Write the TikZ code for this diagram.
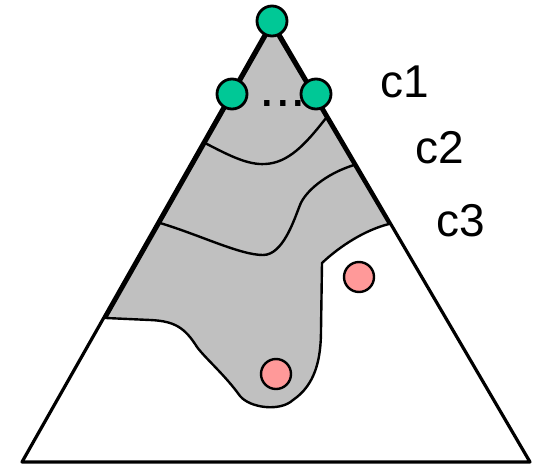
\documentclass[tikz,border=0pt]{standalone}
\usepackage{fontspec}
\setmainfont{Liberation Sans}
\usepackage{tikz}
\definecolor{seedgreen}{RGB}{0,200,150}
\definecolor{sampred}{RGB}{255,153,153}
\definecolor{areagray}{RGB}{192,192,192}

\begin{document}
\begin{tikzpicture}[scale=0.3514,
  seed/.style={circle,draw=black,fill=seedgreen,line width=2.8pt,minimum size=30pt},
  samp/.style={circle,draw=black,fill=sampred,line width=2.4pt,minimum size=30pt},
  lbl/.style={anchor=base west,font=\fontsize{46}{46}\selectfont}]
\tikzstyle{every node}+=[inner sep=0pt]
\useasboundingbox (0,0) rectangle (53.5,-46.4);
% grey area
\draw [black,fill=areagray,line width=2.4pt] (27.2,-2.6) -- (10.6,-31.8) -- (15.0,-32.0)
  .. controls (17.5,-32.1) and (18.5,-32.8) .. (19.7,-34.7)
  .. controls (20.5,-35.8) and (22.5,-37.5) .. (24.0,-39.6)
  .. controls (25.0,-40.8) and (28.0,-41.2) .. (29.3,-40.0)
  .. controls (31.5,-38.5) and (32.1,-36.0) .. (32.1,-33.0)
  -- (32.2,-26.3)
  .. controls (34.0,-24.6) and (36.5,-23.0) .. (38.9,-22.4) -- cycle;
% level lines
\draw [black,line width=2.4pt] (20.5,-14.3) .. controls (23.0,-15.6) and (24.8,-16.5) .. (26.5,-16.4)
  .. controls (28.8,-16.3) and (30.5,-14.5) .. (32.6,-11.8);
\draw [black,line width=2.4pt] (16.0,-22.3) .. controls (20.0,-23.5) and (24.0,-25.5) .. (26.3,-25.5)
  .. controls (28.3,-25.5) and (29.4,-22.0) .. (30.0,-20.5)
  .. controls (30.5,-19.2) and (32.5,-17.4) .. (35.4,-16.5);
% outer triangle
\draw [black,line width=3.2pt,line join=round] (27.2,-2.1) -- (2.2,-46.2) -- (53.0,-46.2) -- cycle;
\node [font=\fontsize{56}{56}\selectfont,anchor=base] (dots) at (28.3,-10.6) {...};
\node [seed] (top) at (27.2,-2.1) {};
\node [seed] (left) at (23.2,-9.4) {};
\node [seed] (right) at (31.6,-9.4) {};
\node [samp] (far) at (35.9,-27.7) {};
\node [samp] (near) at (27.6,-37.4) {};
\node [lbl] (c1) at (38.0,-9.7) {c1};
\node [lbl] (c2) at (41.5,-16.3) {c2};
\node [lbl] (c3) at (43.6,-23.6) {c3};
\end{tikzpicture}
\end{document}
